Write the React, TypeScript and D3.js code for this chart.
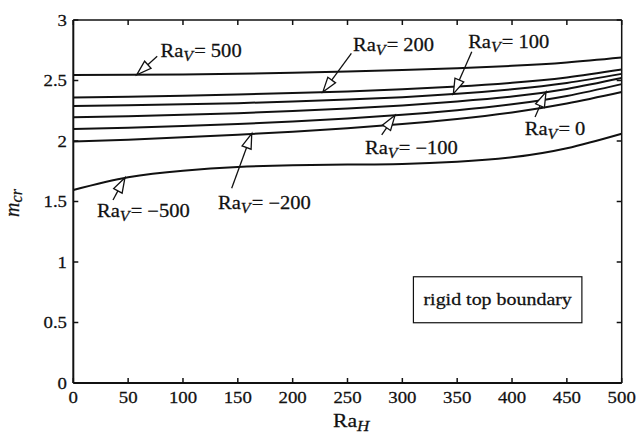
import React from 'react';
import * as d3 from 'd3';

// ---------- data ----------
const raH = [0, 50, 100, 150, 200, 250, 300, 350, 400, 450, 500];
const raV = [500, 200, 100, 0, -100, -200, -500];
const mcrRaV500 = [2.545, 2.547, 2.55, 2.556, 2.564, 2.574, 2.586, 2.601, 2.621, 2.649, 2.69];
const mcrRaV200 = [2.36, 2.366, 2.374, 2.384, 2.396, 2.41, 2.428, 2.451, 2.481, 2.525, 2.59];
const mcrRaV100 = [2.29, 2.295, 2.303, 2.313, 2.326, 2.342, 2.362, 2.39, 2.428, 2.48, 2.555];
const mcrRaV0 = [2.196, 2.205, 2.216, 2.23, 2.247, 2.268, 2.294, 2.327, 2.367, 2.43, 2.52];
const mcrRaVm100 = [2.1, 2.11, 2.123, 2.14, 2.161, 2.186, 2.216, 2.254, 2.303, 2.372, 2.47];
const mcrRaVm200 = [1.995, 2.01, 2.03, 2.052, 2.077, 2.106, 2.14, 2.182, 2.236, 2.31, 2.405];
const mcrRaVm500 = [1.595, 1.7, 1.755, 1.785, 1.8, 1.805, 1.81, 1.828, 1.865, 1.94, 2.06];
const seriesValues = [mcrRaV500, mcrRaV200, mcrRaV100, mcrRaV0, mcrRaVm100, mcrRaVm200, mcrRaVm500];

const xTicks = [0, 50, 100, 150, 200, 250, 300, 350, 400, 450, 500];
const yTicks = [0, 0.5, 1, 1.5, 2, 2.5, 3];
const yTickLabels = ['0', '0.5', '1', '1.5', '2', '2.5', '3'];

// annotation placement (in data units): text start, leader start, arrow tip
const annotations = [
  { v: 500, tx: 79.5, ty: 2.692, sx: 76.5, sy: 2.7, px: 57.8, py: 2.547 },
  { v: 200, tx: 255, ty: 2.742, sx: 253.5, sy: 2.725, px: 227.5, py: 2.404 },
  { v: 100, tx: 360, ty: 2.768, sx: 363.3, sy: 2.738, px: 346.5, py: 2.39 },
  { v: 0, tx: 411.6, ty: 2.05, sx: 421, sy: 2.198, px: 431, py: 2.405 },
  { v: -100, tx: 266, ty: 1.893, sx: 281.2, sy: 2.05, px: 293.3, py: 2.212 },
  { v: -200, tx: 132, ty: 1.438, sx: 144.4, sy: 1.609, px: 162.7, py: 2.062 },
  { v: -500, tx: 21.6, ty: 1.372, sx: 36.2, sy: 1.512, px: 47.1, py: 1.697 },
];

const boxText = 'rigid top boundary';
const boxX0 = 310.1, boxX1 = 463.7, boxY0 = 0.878, boxY1 = 0.498;

// ---------- layout ----------
const W = 637, H = 436;
const X0 = 73.3, X1 = 621.7, Y0 = 383, Y1 = 20;
const FONT = '"Liberation Serif", "Times New Roman", serif';
const SX = 1.14; // horizontal stretch of the original typesetting
const INK = '#111';

const x = d3.scaleLinear().domain([0, 500]).range([X0, X1]);
const y = d3.scaleLinear().domain([0, 3]).range([Y0, Y1]);

const line = d3
  .line<[number, number]>()
  .x((d) => x(d[0]))
  .y((d) => y(d[1]))
  .curve(d3.curveNatural);

function fmtV(v: number) {
  return v < 0 ? '\u2212' + Math.abs(v) : String(v);
}

function Stretched({ x: px, y: py, anchor = 'start', size = 17, children }: any) {
  return (
    <g transform={`translate(${px},${py}) scale(${SX},1)`}>
      <text
        x={0}
        y={0}
        textAnchor={anchor}
        fontFamily={FONT}
        fontSize={size}
        fill={INK}
        stroke={INK}
        strokeWidth={0.25}
      >
        {children}
      </text>
    </g>
  );
}

function Arrow({ a }: any) {
  const sx = x(a.sx), sy = y(a.sy), tx = x(a.px), ty = y(a.py);
  const dx = tx - sx, dy = ty - sy;
  const len = Math.hypot(dx, dy);
  const ux = dx / len, uy = dy / len;
  const L = 15, hw = 4.8;
  const bx = tx - ux * L, by = ty - uy * L;
  const nx = -uy, ny = ux;
  const pts = [
    [tx, ty],
    [bx + nx * hw, by + ny * hw],
    [bx - nx * hw, by - ny * hw],
  ];
  return (
    <g>
      <line x1={sx} y1={sy} x2={bx} y2={by} stroke={INK} strokeWidth={1.3} />
      <polygon
        points={pts.map((p) => p.join(',')).join(' ')}
        fill="#fff"
        stroke={INK}
        strokeWidth={1.3}
        strokeLinejoin="miter"
      />
    </g>
  );
}

export default function App() {
  const tick = 5;
  return (
    <svg
      width={W}
      height={H}
      viewBox={`0 0 ${W} ${H}`}
      style={{ position: 'absolute', left: 0, top: 0, background: '#fff', display: 'block' }}
    >
      <rect x={0} y={0} width={W} height={H} fill="#fff" />

      {/* curves */}
      {seriesValues.map((vals, i) => (
        <path
          key={raV[i]}
          d={line(raH.map((h, j) => [h, vals[j]]) as [number, number][]) || ''}
          fill="none"
          stroke={INK}
          strokeWidth={2}
        />
      ))}

      {/* frame */}
      <line x1={X0} y1={Y1} x2={X1} y2={Y1} stroke={INK} strokeWidth={1.5} />
      <line x1={X1} y1={Y1} x2={X1} y2={Y0} stroke={INK} strokeWidth={1.5} />
      <line x1={X0} y1={Y0} x2={X1} y2={Y0} stroke={INK} strokeWidth={2} />
      <line x1={X0} y1={Y1} x2={X0} y2={Y0} stroke={INK} strokeWidth={2} />

      {/* ticks */}
      {xTicks.map((t) => (
        <g key={'xt' + t}>
          <line x1={x(t)} x2={x(t)} y1={Y0} y2={Y0 - tick} stroke={INK} strokeWidth={1.5} />
          <line x1={x(t)} x2={x(t)} y1={Y1} y2={Y1 + tick} stroke={INK} strokeWidth={1.5} />
          <Stretched x={x(t)} y={402.5} anchor="middle" size={16.5}>
            {String(t)}
          </Stretched>
        </g>
      ))}
      {yTicks.map((t, i) => (
        <g key={'yt' + t}>
          <line x1={X0} x2={X0 + tick} y1={y(t)} y2={y(t)} stroke={INK} strokeWidth={1.5} />
          <line x1={X1} x2={X1 - tick} y1={y(t)} y2={y(t)} stroke={INK} strokeWidth={1.5} />
          <Stretched x={67} y={y(t) + 5.5} anchor="end" size={16.5}>
            {yTickLabels[i]}
          </Stretched>
        </g>
      ))}

      {/* axis titles */}
      <Stretched x={333} y={427} anchor="start" size={19}>
        Ra
        <tspan fontStyle="italic" fontSize={15} dy={4}>
          H
        </tspan>
      </Stretched>
      <g transform="translate(18.5,203) rotate(-90)">
        <text
          x={0}
          y={0}
          textAnchor="middle"
          fontFamily={FONT}
          fontSize={20}
          fontStyle="italic"
          fill={INK}
          stroke={INK}
          strokeWidth={0.25}
        >
          m
          <tspan fontSize={16} dy={3}>
            cr
          </tspan>
        </text>
      </g>

      {/* annotations */}
      {annotations.map((a) => (
        <g key={'an' + a.v}>
          <Arrow a={a} />
          <Stretched x={x(a.tx)} y={y(a.ty)} anchor="start" size={18}>
            Ra
            <tspan fontStyle="italic" fontSize={14} dy={4}>
              V
            </tspan>
            <tspan dy={-4} dx={1}>
              {'= ' + fmtV(a.v)}
            </tspan>
          </Stretched>
        </g>
      ))}

      {/* box */}
      <rect
        x={x(boxX0)}
        y={y(boxY0)}
        width={x(boxX1) - x(boxX0)}
        height={y(boxY1) - y(boxY0)}
        fill="#fff"
        stroke={INK}
        strokeWidth={1.2}
      />
      <Stretched x={(x(boxX0) + x(boxX1)) / 2} y={(y(boxY0) + y(boxY1)) / 2 + 5.5} anchor="middle" size={17.5}>
        {boxText}
      </Stretched>
    </svg>
  );
}
